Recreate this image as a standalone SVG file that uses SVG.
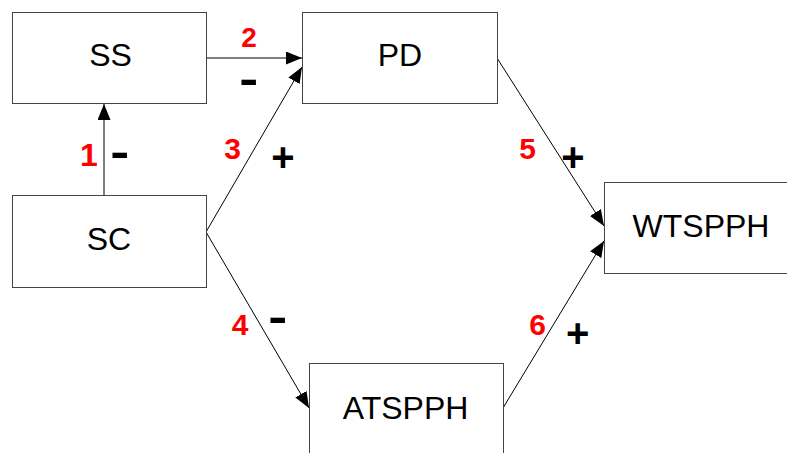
<svg xmlns="http://www.w3.org/2000/svg" width="787" height="453" viewBox="0 0 787 453">
<style>
.box{fill:#fff;stroke:#444;stroke-width:1}
.lbl{font-family:"Liberation Sans",Arial,sans-serif;font-size:32px;fill:#000;text-anchor:middle}
.num{font-family:"Liberation Sans",Arial,sans-serif;font-size:30px;font-weight:bold;fill:#ff0000;text-anchor:middle}
.plus{font-family:"Liberation Sans",Arial,sans-serif;font-size:40px;font-weight:bold;fill:#000;text-anchor:middle}
.minus{font-family:"Liberation Sans",Arial,sans-serif;font-size:44px;font-weight:bold;fill:#000;text-anchor:middle}
.edge{stroke:#000;stroke-width:1;fill:none;marker-end:url(#ah)}
</style>
<defs>
<marker id="ah" viewBox="0 0 16 13" refX="16" refY="6.5" markerWidth="16" markerHeight="13" markerUnits="userSpaceOnUse" orient="auto">
<path d="M0,0 L16,6.5 L0,13 Z" fill="#000"/>
</marker>
</defs>
<rect width="787" height="453" fill="#fff"/>
<g id="connectors">
<line class="edge" x1="104" y1="196" x2="104" y2="104"/>
<line class="edge" x1="206" y1="58" x2="302" y2="58"/>
<line class="edge" x1="206" y1="232" x2="302" y2="67"/>
<line class="edge" x1="206" y1="232" x2="309" y2="408"/>
<line class="edge" x1="497" y1="58" x2="604" y2="226"/>
<line class="edge" x1="503" y1="408" x2="604" y2="241"/>
</g>
<g id="node-SS"><rect class="box" x="12.5" y="12.5" width="194" height="91"/><text class="lbl" x="110.5" y="66">SS</text></g>
<g id="node-PD"><rect class="box" x="302.5" y="12.5" width="195" height="91"/><text class="lbl" x="400" y="65.5">PD</text></g>
<g id="node-SC"><rect class="box" x="12.5" y="195.5" width="194" height="92"/><text class="lbl" x="109" y="249.5">SC</text></g>
<g id="node-ATSPPH"><rect class="box" x="309.5" y="363.5" width="194" height="100"/><text class="lbl" x="405.5" y="419">ATSPPH</text></g>
<g id="node-WTSPPH"><rect class="box" x="604.5" y="182.5" width="194" height="91"/><text class="lbl" x="701" y="236.5">WTSPPH</text></g>
<g id="labels">
<text class="num" x="89" y="165.5" style="font-size:32px">1</text><text class="minus" x="119.7" y="166.5" textLength="19" lengthAdjust="spacingAndGlyphs">-</text>
<text class="num" x="249" y="47.3" style="font-size:28px">2</text><text class="minus" x="248.7" y="93.5" textLength="19" lengthAdjust="spacingAndGlyphs">-</text>
<text class="num" x="232.7" y="159.3">3</text><text class="plus" x="283" y="171">+</text>
<text class="num" x="240" y="335">4</text><text class="minus" x="277.8" y="332.2" textLength="19" lengthAdjust="spacingAndGlyphs">-</text>
<text class="num" x="527.5" y="159.3">5</text><text class="plus" x="573" y="171">+</text>
<text class="num" x="537.7" y="334.5">6</text><text class="plus" x="577.7" y="347">+</text>
</g>
</svg>
